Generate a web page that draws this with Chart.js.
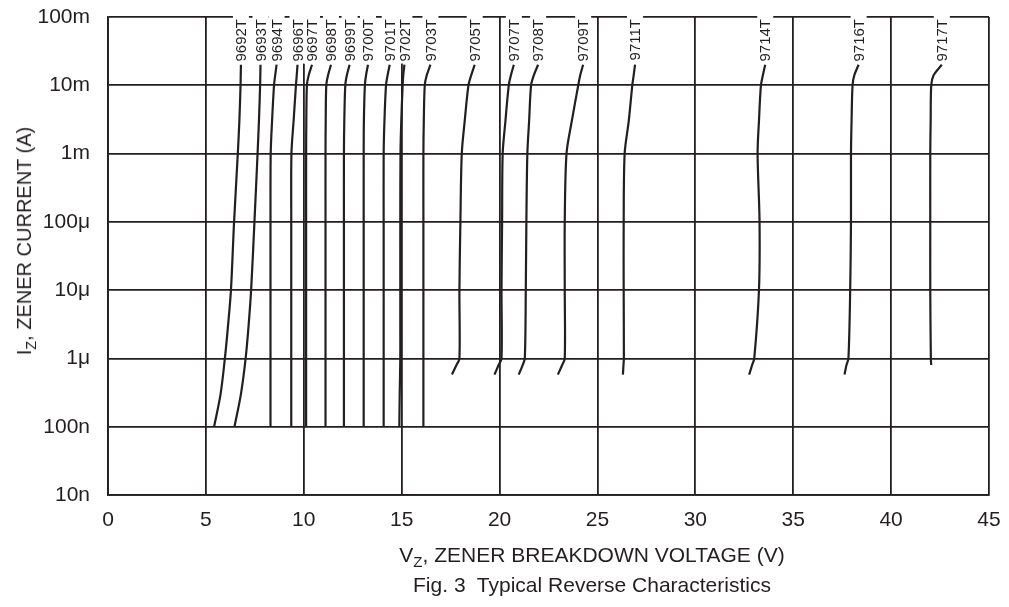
<!DOCTYPE html>
<html>
<head>
<meta charset="utf-8">
<script src="https://cdn.jsdelivr.net/npm/chart.js@4.4.0/dist/chart.umd.min.js"></script>
<style>
  body { margin: 0; background: #fff; }
  #wrap {
    position: relative;
    width: 1009px;
    height: 607px;
    font-family: "Liberation Sans", Arial, sans-serif;
    color: #231f20;
  }
  #chart { position: absolute; left: 0; top: 0; }
  .title {
    position: absolute;
    font-size: 21px;
    line-height: 24px;
    white-space: pre;
    transform: translate(-50%, -50%);
  }
  .title sub { font-size: 0.72em; line-height: 0; vertical-align: -0.35em; }
  #yTitle { left: 24px; top: 241px; font-size: 20px; transform: translate(-50%, -50%) rotate(-90deg); }
  #xTitle { left: 592px; top: 555px; }
  #caption { left: 592px; top: 585px; }
</style>
</head>
<body>
<div id="wrap">
  <canvas id="chart" width="1009" height="607"></canvas>
  <div class="title" id="yTitle">I<sub>Z</sub>, ZENER CURRENT (A)</div>
  <div class="title" id="xTitle">V<sub>Z</sub>, ZENER BREAKDOWN VOLTAGE (V)</div>
  <div class="title" id="caption">Fig. 3  Typical Reverse Characteristics</div>
</div>
<script>
// axis ticks
const xTicks = [0, 5, 10, 15, 20, 25, 30, 35, 40, 45];
const yTickValues = [1e-8, 1e-7, 1e-6, 1e-5, 1e-4, 1e-3, 1e-2, 1e-1];
const yTickLabels = ["10n", "100n", "1μ", "10μ", "100μ", "1m", "10m", "100m"];

// current levels (A) the curves are read at
// low-voltage parts start at 100n, the others near 0.6μ
const lowCurrents = [1e-7, 3e-7, 1e-6, 3e-6, 1e-5, 1e-4, 1e-3, 3e-3, 1e-2, 1.4e-2, 2e-2];
const highCurrents = [5.8e-7, 8e-7, 1e-6, 1e-5, 1e-4, 1e-3, 3e-3, 1e-2, 1.4e-2, 2e-2];

// breakdown voltage (V) of each part at those currents
const v9692T = [5.42, 5.75, 5.97, 6.13, 6.28, 6.44, 6.63, 6.71, 6.77, 6.78, 6.79];
const v9693T = [6.46, 6.79, 7.03, 7.18, 7.31, 7.48, 7.64, 7.71, 7.77, 7.78, 7.79];
const v9694T = [8.30, 8.30, 8.30, 8.30, 8.30, 8.30, 8.31, 8.38, 8.48, 8.54, 8.61];
const v9696T = [9.36, 9.36, 9.36, 9.36, 9.36, 9.36, 9.37, 9.48, 9.60, 9.64, 9.68];
const v9697T = [10.12, 10.12, 10.12, 10.12, 10.12, 10.12, 10.12, 10.13, 10.16, 10.25, 10.42];
const v9698T = [11.11, 11.11, 11.11, 11.11, 11.11, 11.11, 11.11, 11.12, 11.15, 11.24, 11.39];
const v9699T = [12.05, 12.05, 12.05, 12.05, 12.05, 12.05, 12.05, 12.07, 12.12, 12.20, 12.34];
const v9700T = [13.06, 13.06, 13.06, 13.06, 13.06, 13.06, 13.06, 13.07, 13.12, 13.18, 13.28];
const v9701T = [14.08, 14.08, 14.08, 14.08, 14.08, 14.08, 14.08, 14.12, 14.20, 14.28, 14.39];
const v9702T = [14.88, 14.90, 14.93, 14.93, 14.93, 14.93, 14.94, 14.98, 15.05, 15.08, 15.14];
const v9703T = [16.11, 16.11, 16.11, 16.11, 16.11, 16.11, 16.11, 16.13, 16.18, 16.28, 16.47];
const v9705T = [17.57, 17.80, 17.95, 17.95, 18.00, 18.07, 18.22, 18.41, 18.55, 18.73];
const v9707T = [19.74, 19.95, 20.10, 20.10, 20.13, 20.16, 20.30, 20.47, 20.58, 20.73];
const v9708T = [20.98, 21.18, 21.29, 21.34, 21.37, 21.42, 21.51, 21.61, 21.75, 21.97];
const v9709T = [22.98, 23.20, 23.33, 23.33, 23.33, 23.42, 23.69, 24.02, 24.12, 24.27];
const v9711T = [26.30, 26.33, 26.35, 26.34, 26.34, 26.39, 26.60, 26.78, 26.85, 26.92];
const v9714T = [32.75, 32.90, 33.01, 33.25, 33.28, 33.18, 33.25, 33.35, 33.45, 33.57];
const v9716T = [37.62, 37.72, 37.82, 37.91, 37.95, 37.95, 37.98, 38.03, 38.12, 38.34];
const v9717T = [null, 42.05, 42.03, 42.00, 42.00, 42.00, 42.02, 42.05, 42.17, 42.59];

const curves = [
  ["9692T", v9692T, lowCurrents],
  ["9693T", v9693T, lowCurrents],
  ["9694T", v9694T, lowCurrents],
  ["9696T", v9696T, lowCurrents],
  ["9697T", v9697T, lowCurrents],
  ["9698T", v9698T, lowCurrents],
  ["9699T", v9699T, lowCurrents],
  ["9700T", v9700T, lowCurrents],
  ["9701T", v9701T, lowCurrents],
  ["9702T", v9702T, lowCurrents],
  ["9703T", v9703T, lowCurrents],
  ["9705T", v9705T, highCurrents],
  ["9707T", v9707T, highCurrents],
  ["9708T", v9708T, highCurrents],
  ["9709T", v9709T, highCurrents],
  ["9711T", v9711T, highCurrents],
  ["9714T", v9714T, highCurrents],
  ["9716T", v9716T, highCurrents],
  ["9717T", v9717T, highCurrents],
];

const ink = "#231f20";
const font = "'Liberation Sans', Arial, sans-serif";

// part number written upward above the top end of each curve
const curveLabels = {
  id: "curveLabels",
  afterDatasetsDraw(chart) {
    const ctx = chart.ctx;
    const top = chart.chartArea.top;
    ctx.save();
    ctx.font = "15px " + font;
    ctx.textAlign = "right";
    ctx.textBaseline = "middle";
    chart.data.datasets.forEach((ds, i) => {
      const pts = chart.getDatasetMeta(i).data;
      const tip = pts[pts.length - 1];
      const w = ctx.measureText(ds.label).width;
      ctx.save();
      ctx.translate(tip.x, top + 2);
      ctx.rotate(-Math.PI / 2);
      ctx.fillStyle = "#fff";
      ctx.fillRect(-w - 2, -8, w + 6, 16);
      ctx.fillStyle = ink;
      ctx.fillText(ds.label, 0, 1);
      ctx.restore();
    });
    ctx.restore();
  },
};

new Chart(document.getElementById("chart"), {
  type: "line",
  data: {
    datasets: curves.map(([name, volts, amps]) => ({
      label: name,
      data: volts
        .map((v, k) => ({ x: v, y: amps[k] }))
        .filter((p) => p.x !== null),
      borderColor: ink,
      borderWidth: 2.2,
      pointRadius: 0,
      tension: 0.3,
      fill: false,
    })),
  },
  options: {
    responsive: false,
    animation: false,
    layout: { padding: { top: 17, right: 20, left: 0, bottom: 0 } },
    plugins: {
      legend: { display: false },
      tooltip: { enabled: false },
    },
    scales: {
      x: {
        type: "linear",
        min: 0,
        max: 45,
        afterBuildTicks: (scale) => {
          scale.ticks = xTicks.map((v) => ({ value: v }));
        },
        afterFit: (scale) => {
          scale.height = 112;
          scale.paddingLeft = 0;
          scale.paddingRight = 0;
        },
        ticks: {
          color: ink,
          padding: 13,
          font: { family: font, size: 21 },
        },
        grid: { color: ink, lineWidth: 1.8, drawTicks: false },
        border: { color: ink, width: 1.8 },
      },
      y: {
        type: "logarithmic",
        min: 1e-8,
        max: 1e-1,
        afterBuildTicks: (scale) => {
          scale.ticks = yTickValues.map((v) => ({ value: v }));
        },
        afterFit: (scale) => {
          scale.width = 108;
          scale.paddingTop = 0;
          scale.paddingBottom = 0;
        },
        ticks: {
          color: ink,
          padding: 18,
          font: { family: font, size: 21 },
          callback: (value, index) => yTickLabels[index],
        },
        grid: { color: ink, lineWidth: 1.8, drawTicks: false },
        border: { color: ink, width: 1.8 },
      },
    },
  },
  plugins: [curveLabels],
});
</script>
</body>
</html>
